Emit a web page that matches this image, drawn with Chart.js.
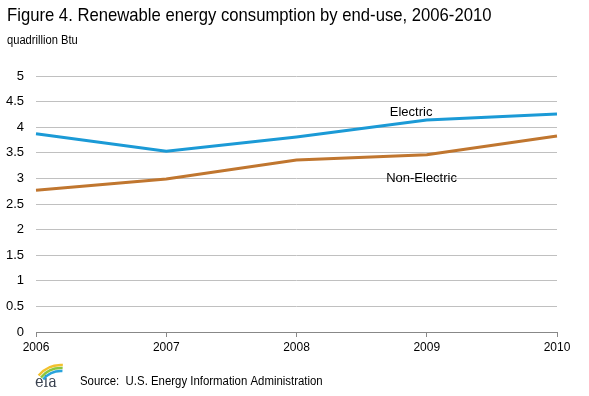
<!DOCTYPE html>
<html>
<head>
<meta charset="utf-8">
<script src="https://cdn.jsdelivr.net/npm/chart.js@4/dist/chart.umd.min.js"></script>
<style>
  html, body { margin: 0; padding: 0; background: #fff; }
  #wrap { width: 589px; height: 396px; position: relative; }
</style>
</head>
<body>
<div id="wrap"><canvas id="chart"></canvas></div>
<script>
// Figure 4 data, quadrillion Btu
const years = ['2006', '2007', '2008', '2009', '2010'];
const electric = [3.87, 3.53, 3.81, 4.14, 4.26];
const nonElectric = [2.77, 2.99, 3.36, 3.46, 3.83];
const yTicks = [0, 0.5, 1, 1.5, 2, 2.5, 3, 3.5, 4, 4.5, 5];

const FONT = 'Liberation Sans, Arial, sans-serif';

// draw text squeezed horizontally to match the narrow original lettering
function narrowText(ctx, text, x, y, sx) {
  ctx.save();
  ctx.translate(x, y);
  ctx.scale(sx, 1);
  ctx.fillText(text, 0, 0);
  ctx.restore();
}

// Titles, series labels, source line and logo
const decorations = {
  id: 'decorations',
  afterDraw(chart) {
    const ctx = chart.ctx;
    const x = chart.scales.x, y = chart.scales.y;
    ctx.save();
    ctx.fillStyle = '#000';
    ctx.textBaseline = 'middle';
    ctx.textAlign = 'left';
    ctx.font = '19px ' + FONT;
    narrowText(ctx, 'Figure 4. Renewable energy consumption by end-use, 2006-2010', 7, 16, 0.877);
    ctx.font = '12px ' + FONT;
    narrowText(ctx, 'quadrillion Btu', 7, 41, 0.93);

    // series labels
    ctx.font = '13px ' + FONT;
    ctx.textAlign = 'center';
    ctx.fillText('Electric', x.getPixelForValue(2.88), y.getPixelForValue(4.28));
    ctx.fillText('Non-Electric', x.getPixelForValue(2.96), y.getPixelForValue(3.0));

    // source
    ctx.font = '12px ' + FONT;
    ctx.textAlign = 'left';
    narrowText(ctx, 'Source:  U.S. Energy Information Administration', 80, 382, 0.95);

    // eia logo
    ctx.font = '17px DejaVu Serif, serif';
    ctx.fillStyle = '#3a4250';
    ctx.textBaseline = 'alphabetic';
    narrowText(ctx, 'eia', 35, 387, 0.85);
    ctx.lineWidth = 2.5;
    const arcs = ['#f2c12e', '#8cc63f', '#29a3dc'];
    arcs.forEach((c, i) => {
      ctx.strokeStyle = c;
      ctx.beginPath();
      ctx.arc(61, 394, 29 - i * 3, Math.PI * 1.22, Math.PI * 1.52);
      ctx.stroke();
    });
    ctx.restore();
  }
};

new Chart(document.getElementById('chart'), {
  type: 'line',
  data: {
    labels: years,
    datasets: [{
      label: 'Electric',
      data: electric,
      borderColor: '#1b9ad6',
      borderWidth: 3,
      pointRadius: 0,
      tension: 0
    }, {
      label: 'Non-Electric',
      data: nonElectric,
      borderColor: '#c0762f',
      borderWidth: 3,
      pointRadius: 0,
      tension: 0
    }]
  },
  options: {
    responsive: true,
    maintainAspectRatio: false,
    animation: false,
    layout: { padding: { top: 76, right: 32, bottom: 0, left: 0 } },
    plugins: {
      legend: { display: false },
      tooltip: { enabled: false }
    },
    scales: {
      x: {
        offset: false,
        afterFit: s => { s.height = 64; },
        grid: {
          drawOnChartArea: false,
          drawTicks: true,
          tickLength: 5,
          color: '#888'
        },
        border: { color: '#888', width: 1 },
        ticks: {
          color: '#000',
          font: { family: FONT, size: 12 },
          maxRotation: 0,
          padding: 3
        }
      },
      y: {
        min: 0,
        max: 5,
        afterFit: s => { s.width = 36; },
        afterBuildTicks: s => { s.ticks = yTicks.map(v => ({ value: v })); },
        grid: {
          color: '#c0c0c0',
          drawTicks: false
        },
        border: { display: false },
        ticks: {
          color: '#000',
          font: { family: FONT, size: 13 },
          padding: 12,
          callback: v => String(v)
        }
      }
    }
  },
  plugins: [decorations]
});
</script>
</body>
</html>
